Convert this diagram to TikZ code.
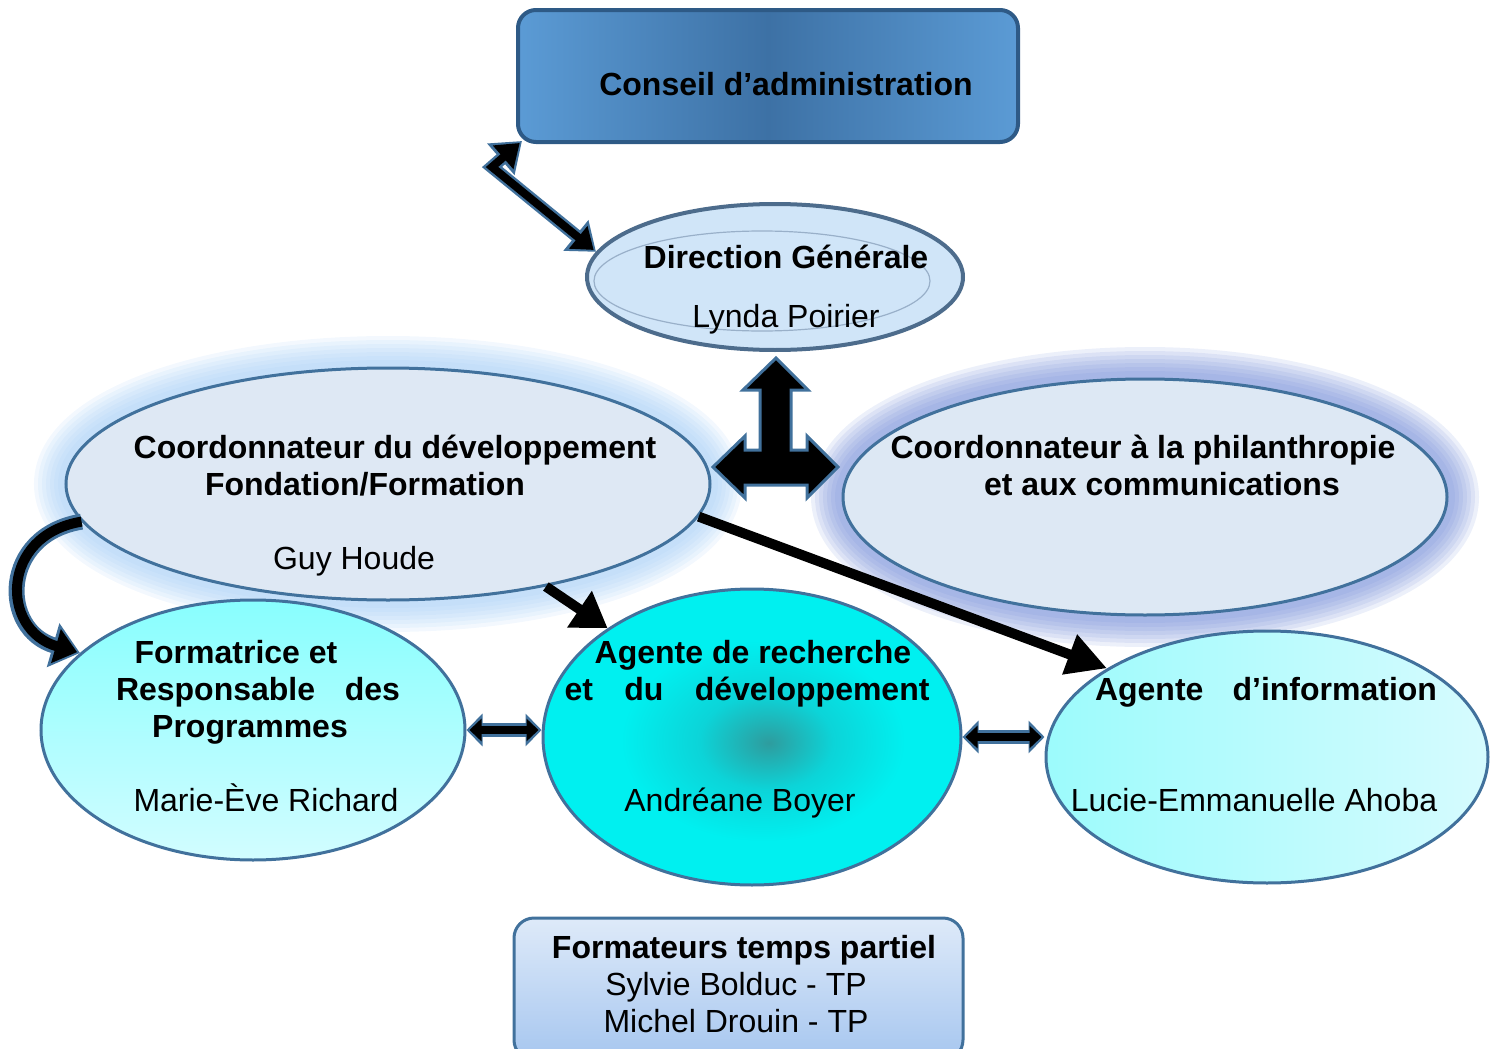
\documentclass[tikz,border=0pt]{standalone}
\usepackage{fontspec}
\setmainfont{Liberation Sans}
\usetikzlibrary{shapes.geometric,arrows.meta}
\definecolor{olblue}{HTML}{41719C}
\definecolor{cadark}{HTML}{2E5A86}
\definecolor{calight}{HTML}{5B9BD5}
\definecolor{camid}{HTML}{3D71A5}
\definecolor{dirin}{HTML}{D0E5F8}
\definecolor{dirout}{HTML}{7F9CBB}
\definecolor{dirrim}{HTML}{4D6C8C}
\definecolor{kfill}{HTML}{DEE8F4}
\definecolor{kglow}{HTML}{A2CCF6}
\definecolor{pglow}{HTML}{7089D6}
\definecolor{pin}{HTML}{DDE8F4}
\definecolor{pout}{HTML}{AEBBD0}
\definecolor{ftop}{HTML}{88FEFE}
\definecolor{fbot}{HTML}{D2FDFF}
\definecolor{rin}{HTML}{2E9C9E}
\definecolor{rmid}{HTML}{0CD4D8}
\definecolor{rout}{HTML}{00F0F0}
\definecolor{ileft}{HTML}{9CFBFC}
\definecolor{iright}{HTML}{D6FBFE}
\definecolor{fbtop}{HTML}{DEEAF9}
\definecolor{fbbot}{HTML}{A6C6EF}
\pgfdeclareradialshading{dirsh}{\pgfpoint{0bp}{0bp}}{color(0bp)=(dirin); color(38bp)=(dirin); color(50bp)=(dirout)}
\pgfdeclareradialshading{agsh}{\pgfpoint{2bp}{-1bp}}{color(0bp)=(rin); color(8bp)=(rmid); color(17bp)=(rout); color(50bp)=(rout)}
\pgfdeclareradialshading{phsh}{\pgfpoint{0bp}{0bp}}{color(0bp)=(pin); color(44bp)=(pin); color(50bp)=(pout)}
\begin{document}
\begin{tikzpicture}[x=0.5pt,y=-0.5pt,
  txt/.style={anchor=base, inner sep=0pt, font=\fontsize{16}{18}\selectfont},
  btxt/.style={anchor=base, inner sep=0pt, font=\fontsize{16}{18}\selectfont\bfseries},
  ell/.style={ellipse, inner sep=0pt, draw=olblue, line width=1.5pt},
  outerline/.style={draw=olblue, line width=#1},
  innerline/.style={draw=black, line width=#1, shorten <=1.5pt, shorten >=1.5pt},
  blkarrow/.style={draw=black, line width=5pt},
]
\useasboundingbox (0,0) rectangle (1496,1049);

% glows
\foreach \w in {32,28,24,20,16,12,8} {
  \draw[kglow, line width=\w pt, opacity=0.13] (388,484) ellipse [x radius=322, y radius=116];
  \draw[pglow, line width=\w pt, opacity=0.13] (1145,497) ellipse [x radius=302, y radius=118];
}

% boxes and ellipses
\node[draw=cadark, line width=2pt, rounded corners=9pt, left color=calight, right color=calight, middle color=camid, minimum width=250pt, minimum height=66pt] (C) at (768,76) {};
\node[ell, fill=kfill, minimum width=322pt, minimum height=116pt] (K) at (388,484) {};
\node[ell, shade, shading=phsh, minimum width=302pt, minimum height=118pt] (P) at (1145,497) {};
\node[ell, shade, shading=dirsh, draw=dirrim, line width=2pt, minimum width=188pt, minimum height=73pt] (D) at (775,277) {};
\draw[line width=0.6pt, draw=dirout!80] (762,281) ellipse [x radius=168, y radius=50];
\node[ell, top color=ftop, bottom color=fbot, minimum width=212pt, minimum height=130pt] (F) at (253,730) {};
\node[ell, shade, shading=agsh, minimum width=209pt, minimum height=148pt] (R) at (752,737) {};
\node[ell, left color=ileft, right color=iright, minimum width=221pt, minimum height=126pt] (I) at (1267,757) {};
\node[draw=olblue, line width=1.5pt, rounded corners=10pt, top color=fbtop, bottom color=fbbot, minimum width=224.5pt, minimum height=71pt] (T) at (738.5,989) {};

% texts
\node[btxt] (Ct) at (786,95) {Conseil d’administration};
\node[btxt] (Dt1) at (786,268) {Direction Générale};
\node[txt] (Dt2) at (786,327) {Lynda Poirier};
\node[btxt] (Kt1) at (395,458) {Coordonnateur du développement};
\node[btxt] (Kt2) at (365,495) {Fondation/Formation};
\node[txt] (Kt3) at (354,569) {Guy Houde};
\node[btxt] (Pt1) at (1143,458) {Coordonnateur à la philanthropie};
\node[btxt] (Pt2) at (1162,495) {et aux communications};
\node[btxt] (Ft1) at (236,663) {Formatrice et};
\node[btxt] (Ft2) at (258,700) {\makebox[142pt][s]{Responsable\hfill des}};
\node[btxt] (Ft3) at (250,737) {Programmes};
\node[txt] (Ft4) at (266,811) {Marie-Ève Richard};
\node[btxt] (Rt1) at (753,663) {Agente de recherche};
\node[btxt] (Rt2) at (747,700) {\makebox[182.5pt][s]{et\hfill du\hfill développement}};
\node[txt] (Rt3) at (740,811) {Andréane Boyer};
\node[btxt] (It1) at (1266,700) {\makebox[171pt][s]{Agente\hfill d’information}};
\node[txt] (It2) at (1254,811) {Lucie-Emmanuelle Ahoba};
\node[btxt] (Tt1) at (744,958) {Formateurs temps partiel};
\node[txt] (Tt2) at (736,995) {Sylvie Bolduc - TP};
\node[txt] (Tt3) at (736,1032) {Michel Drouin - TP};

% elbow double arrow Conseil <-> Direction
\coordinate (elb) at (492,167);
\coordinate (Ccorner) at ([shift={(6,-3)}]C.south west);
\draw[outerline=6.5pt, line join=miter, {Triangle[length=14pt,width=20pt]}-{Triangle[length=13pt,width=19pt]}] (Ccorner) -- (elb) -- (D.172);
\draw[innerline=4pt, line join=miter, {Triangle[length=11pt,width=15pt]}-{Triangle[length=10pt,width=14pt]}] (Ccorner) -- (elb) -- (D.172);

% T-shaped triple arrow
\draw[fill=black, draw=olblue, line width=1.5pt, line join=miter]
  (776,358) -- (808,390) -- (791,390) -- (791,450) -- (807,450) -- (807,436) -- (838,467)
  -- (807,498) -- (807,485) -- (745,485) -- (745,498) -- (713,467) -- (745,436)
  -- (745,450) -- (760,450) -- (760,390) -- (743,390) -- cycle;

% curved arrow K -> F
\draw[outerline=8pt, -{Triangle[length=14pt,width=22pt]}] (K.187) .. controls (0,535) and (0,630) .. (F.156);
\draw[innerline=5pt, shorten <=0pt, -{Triangle[length=11pt,width=17pt]}] (K.187) .. controls (0,535) and (0,630) .. (F.156);

% black arrows
\draw[blkarrow, -{Triangle[length=17pt,width=21pt]}] (K.-33.5) -- (R.143);
\draw[blkarrow, -{Triangle[length=20pt,width=20pt]}] (K.-6.4) -- (I.151);

% horizontal double arrows
\draw[outerline=7pt, {Triangle[length=8pt,width=16pt]}-{Triangle[length=8pt,width=16pt]}] (F.east) -- (F.east -| R.west);
\draw[innerline=4pt, {Triangle[length=6pt,width=11pt]}-{Triangle[length=6pt,width=11pt]}] (F.east) -- (F.east -| R.west);
\draw[outerline=7pt, {Triangle[length=8pt,width=16pt]}-{Triangle[length=8pt,width=16pt]}] (R.east) -- (R.east -| I.west);
\draw[innerline=4pt, {Triangle[length=6pt,width=11pt]}-{Triangle[length=6pt,width=11pt]}] (R.east) -- (R.east -| I.west);
\end{tikzpicture}
\end{document}
